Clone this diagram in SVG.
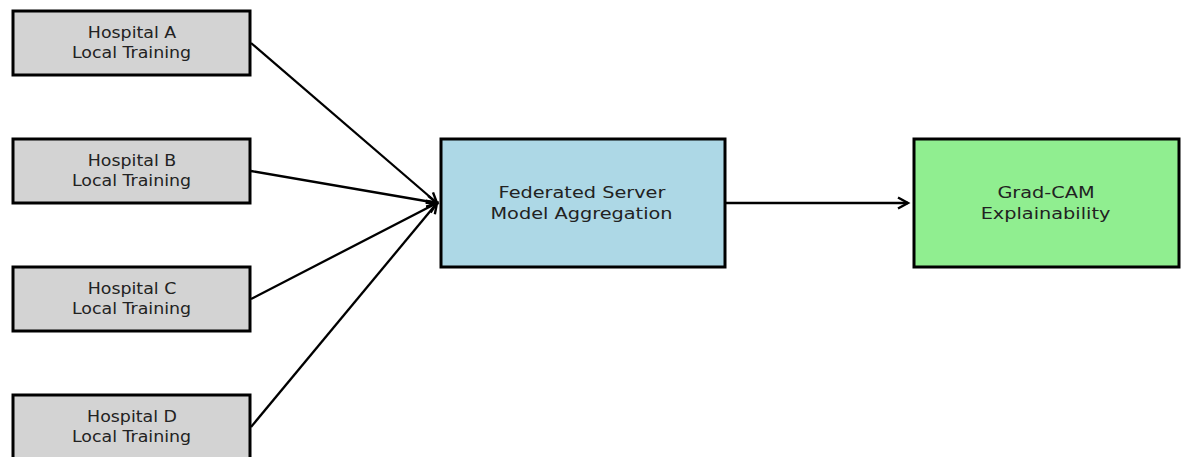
<svg xmlns="http://www.w3.org/2000/svg" width="1181" height="457" viewBox="0 0 1181 457">
<defs>
<marker id="ah" markerWidth="14" markerHeight="14" refX="11" refY="7" orient="auto" markerUnits="userSpaceOnUse">
<path d="M1,1.5 L11,7 L1,12.5" fill="none" stroke="#000" stroke-width="2.4" stroke-linejoin="miter"/>
</marker>
</defs>
<style>
.box{stroke:#000;stroke-width:3}
.h{fill:#d3d3d3}
.t{font-family:"DejaVu Sans",sans-serif;fill:#222;text-anchor:middle}
.s{font-size:15px}
.l{font-size:16.5px}
.c{fill:none;stroke:#000;stroke-width:2.3}
</style>
<rect width="1181" height="457" fill="#fff"/>
<g id="hospA"><rect class="box h" x="13" y="11" width="237" height="64"/><text class="t s" transform="translate(132,38) scale(1.16,1)">Hospital A</text><text class="t s" transform="translate(131.5,58) scale(1.16,1)">Local Training</text></g>
<g id="hospB"><rect class="box h" x="13" y="139" width="237" height="64"/><text class="t s" transform="translate(132,166) scale(1.16,1)">Hospital B</text><text class="t s" transform="translate(131.5,186) scale(1.16,1)">Local Training</text></g>
<g id="hospC"><rect class="box h" x="13" y="267" width="237" height="64"/><text class="t s" transform="translate(132,294) scale(1.16,1)">Hospital C</text><text class="t s" transform="translate(131.5,314) scale(1.16,1)">Local Training</text></g>
<g id="hospD"><rect class="box h" x="13" y="395" width="237" height="64"/><text class="t s" transform="translate(132,422) scale(1.16,1)">Hospital D</text><text class="t s" transform="translate(131.5,442) scale(1.16,1)">Local Training</text></g>
<g id="server"><rect class="box" fill="#add8e6" x="441" y="139" width="284" height="128"/><text class="t l" transform="translate(582,198) scale(1.17,1)">Federated Server</text><text class="t l" transform="translate(581.5,219) scale(1.17,1)">Model Aggregation</text></g>
<g id="gradcam"><rect class="box" fill="#90ee90" x="914" y="139" width="265" height="128"/><text class="t l" transform="translate(1046,198) scale(1.17,1)">Grad-CAM</text><text class="t l" transform="translate(1045.5,219) scale(1.17,1)">Explainability</text></g>
<g id="connectors">
<line class="c" x1="251" y1="43" x2="437" y2="203" marker-end="url(#ah)"/>
<line class="c" x1="251" y1="171" x2="437" y2="203" marker-end="url(#ah)"/>
<line class="c" x1="251" y1="299" x2="437" y2="203" marker-end="url(#ah)"/>
<line class="c" x1="251" y1="427" x2="437" y2="203" marker-end="url(#ah)"/>
<line class="c" x1="726" y1="203" x2="908" y2="203" marker-end="url(#ah)"/>
</g>
</svg>
